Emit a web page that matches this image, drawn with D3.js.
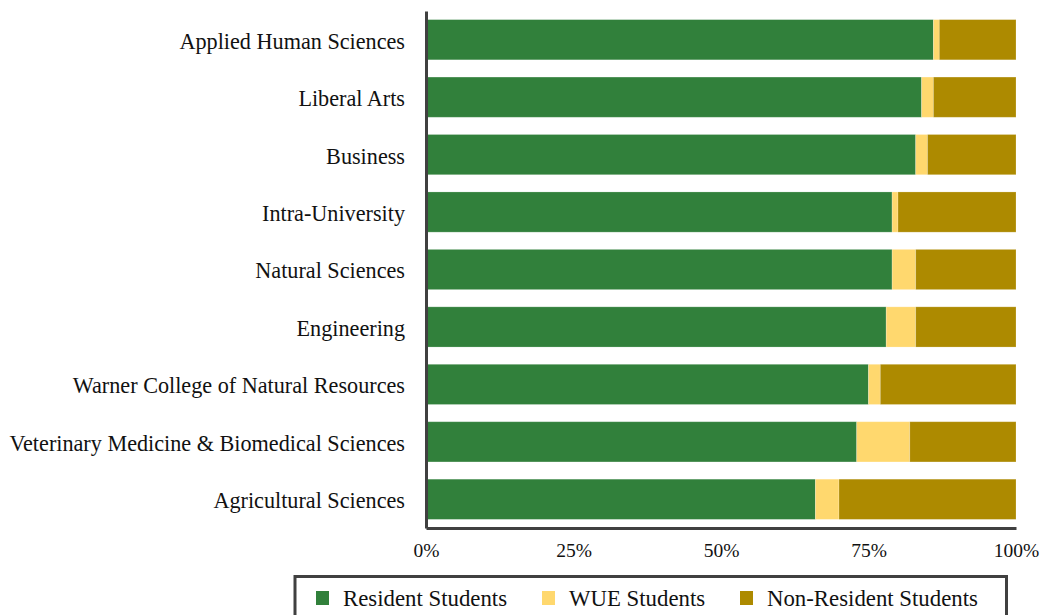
<!DOCTYPE html>
<html>
<head>
<meta charset="utf-8">
<script src="https://cdn.jsdelivr.net/npm/d3@7"></script>
<style>
  body { margin: 0; background: #fff; }
  svg { display: block; font-family: "Liberation Serif", "DejaVu Serif", serif; }
</style>
</head>
<body>
<div id="chart"></div>
<script>
// Colleges, top to bottom
const colleges = [
    "Applied Human Sciences",
    "Liberal Arts",
    "Business",
    "Intra-University",
    "Natural Sciences",
    "Engineering",
    "Warner College of Natural Resources",
    "Veterinary Medicine & Biomedical Sciences",
    "Agricultural Sciences"
];

// Share of students (%) per college
const residentPct    = [86, 84, 83, 79, 79, 78, 75, 73, 66];
const wuePct         = [1, 2, 2, 1, 4, 5, 2, 9, 4];
const nonResidentPct = [13, 14, 15, 20, 17, 17, 23, 18, 30];

const seriesKeys   = ["resident", "wue", "nonResident"];
const seriesLabels = ["Resident Students", "WUE Students", "Non-Resident Students"];
const seriesColors = ["#31803b", "#ffd86e", "#ad8a00"];

const xTicks = [0, 25, 50, 75, 100];

const W = 1042, H = 615;
const margin = { top: 11, right: 26, bottom: 87, left: 426 };

const rows = colleges.map((c, i) => ({
    college: c,
    resident: residentPct[i],
    wue: wuePct[i],
    nonResident: nonResidentPct[i]
}));

const stacked = d3.stack().keys(seriesKeys)(rows);

const svg = d3.select("#chart").append("svg")
    .attr("width", W)
    .attr("height", H);

const x = d3.scaleLinear().domain([0, 100]).range([margin.left, W - margin.right]);
const y = d3.scaleBand().domain(colleges)
    .range([margin.top, H - margin.bottom])
    .paddingInner(0.3)
    .paddingOuter(0.15);
const color = d3.scaleOrdinal().domain(seriesKeys).range(seriesColors);

// Bars
svg.append("g")
    .selectAll("g")
    .data(stacked)
    .join("g")
    .attr("fill", d => color(d.key))
    .selectAll("rect")
    .data(d => d)
    .join("rect")
    .attr("x", d => x(d[0]))
    .attr("y", d => y(d.data.college))
    .attr("width", d => x(d[1]) - x(d[0]))
    .attr("height", y.bandwidth())
    .attr("stroke", "rgba(255,255,255,0.25)")
    .attr("stroke-width", 0.8);

// y axis
const yAxis = svg.append("g")
    .attr("transform", `translate(${margin.left},0)`)
    .call(d3.axisLeft(y).tickSize(0).tickPadding(21));
yAxis.select(".domain").attr("stroke", "#404040").attr("stroke-width", 3);
yAxis.selectAll("text")
    .attr("font-size", "22.2px")
    .attr("dy", "0.4em")
    .attr("fill", "#111")
    .style("font-family", "'Liberation Serif', serif");

// x axis
const xAxis = svg.append("g")
    .attr("transform", `translate(0,${H - margin.bottom})`)
    .call(d3.axisBottom(x).tickValues(xTicks).tickSize(0).tickPadding(15).tickFormat(d => d + "%"));
xAxis.select(".domain").attr("stroke", "#404040").attr("stroke-width", 3);
xAxis.selectAll("text")
    .attr("font-size", "19.5px")
    .attr("fill", "#111")
    .style("font-family", "'Liberation Serif', serif");

// Legend
const legend = svg.append("g");
legend.append("rect")
    .attr("x", 295)
    .attr("y", 576.5)
    .attr("width", 711.5)
    .attr("height", 60)
    .attr("fill", "#fff")
    .attr("stroke", "#404040")
    .attr("stroke-width", 3);

const legendX = [316, 542, 740];
const items = legend.selectAll("g.item")
    .data(seriesKeys)
    .join("g")
    .attr("class", "item")
    .attr("transform", (d, i) => `translate(${legendX[i]},598)`);
items.append("rect")
    .attr("x", 0)
    .attr("y", -7)
    .attr("width", 13)
    .attr("height", 14)
    .attr("fill", d => color(d));
items.append("text")
    .attr("x", 27)
    .attr("dy", "0.35em")
    .attr("font-size", "22.8px")
    .attr("fill", "#111")
    .text((d, i) => seriesLabels[i]);
</script>
</body>
</html>
